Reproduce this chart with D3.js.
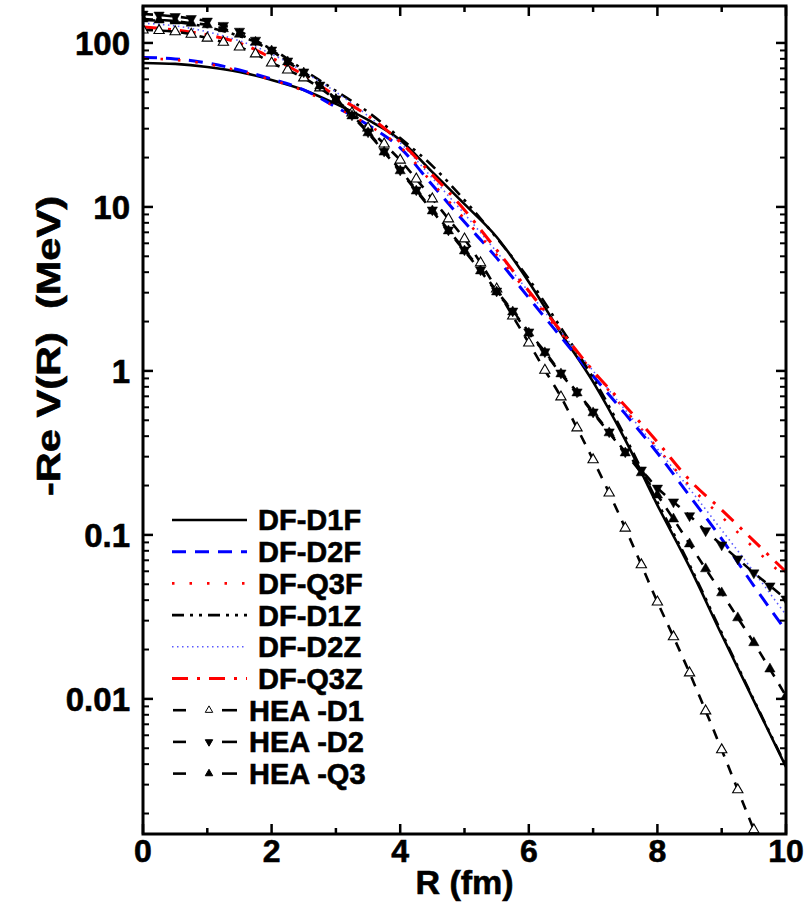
<!DOCTYPE html>
<html><head><meta charset="utf-8">
<script src="https://cdn.jsdelivr.net/npm/d3@7"></script>
<style>body{margin:0;background:#fff}svg{display:block}text{font-family:"Liberation Sans",Arial,sans-serif;font-weight:bold;fill:#000;stroke:#000;stroke-width:0.6px}</style>
</head><body><svg id="c" width="809" height="914"></svg>
<script>
// ---- data (R in fm, -Re V in MeV) ----
const R_DF = [0,0.5,1,1.5,2,2.5,3,3.5,4,4.5,5,5.5,6,6.5,7,7.5,8,8.5,9,9.5,10];
const R_HEA = [0,0.25,0.5,0.75,1,1.25,1.5,1.75,2,2.25,2.5,2.75,3,3.25,3.5,3.75,4,4.25,4.5,4.75,5,5.25,5.5,5.75,6,6.25,6.5,6.75,7,7.25,7.5,7.75,8,8.25,8.5,8.75,9,9.25,9.5,9.75,10];
const dfD1F = [75.5,74.5,71.4,66.6,59.5,51.7,42.5,33.9,25.6,16.3,10.4,6.56,3.49,1.70,0.857,0.380,0.152,0.0638,0.0246,0.00972,0.00385];
const dfD2F = [81.6,79.9,75.5,68.4,60.3,51.7,40.7,31.6,22.9,13.6,8.10,4.89,2.79,1.61,0.932,0.547,0.316,0.173,0.0945,0.0489,0.0260];
const dfQ3F = [80.4,78.8,74.5,67.5,59.5,51.0,40.7,31.6,23.2,14.0,8.45,5.10,2.95,1.70,0.986,0.578,0.339,0.199,0.129,0.0833,0.0547];
const dfD1Z = [138,134,125,110,91.9,68.4,51.0,37.9,26.3,17.8,11.0,6.47,3.64,1.83,0.906,0.396,0.159,0.0657,0.0253,0.00986,0.00390];
const dfD2Z = [132,127,117,103,85.7,66.6,50.2,35.9,24.6,15.0,9.06,5.32,3.03,1.73,1.00,0.578,0.334,0.191,0.107,0.0595,0.0325];
const dfQ3Z = [125,120,112,100,81.0,63.8,47.5,35.9,24.9,15.7,9.59,5.47,3.07,1.75,1.00,0.612,0.369,0.216,0.142,0.0919,0.0595];
const heaD1 = [120,119,117,113,107,101,94.5,85.7,75.5,68.4,61.2,53.2,44.9,37.4,30.3,24.2,19.3,14.8,11.2,8.45,6.38,4.56,3.16,2.16,1.48,1.01,0.694,0.449,0.287,0.180,0.110,0.0657,0.0390,0.0239,0.0144,0.00845,0.00489,0.00279,0.00159,0.000906,0.000517];
const heaD2 = [150,148,145,141,136,128,118,104,90.6,77.7,66.6,55.4,45.6,36.4,28.7,21.9,16.8,12.7,9.59,7.24,5.47,4.13,3.07,2.32,1.73,1.31,0.972,0.745,0.562,0.425,0.321,0.249,0.193,0.159,0.131,0.106,0.0869,0.0714,0.0587,0.0489,0.0407];
const heaQ3 = [140,138,136,132,129,122,113,101,89.4,76.6,65.6,54.7,44.9,35.9,28.3,21.6,16.6,12.5,9.45,7.14,5.39,4.07,3.03,2.29,1.70,1.29,0.959,0.734,0.555,0.419,0.316,0.239,0.175,0.125,0.0881,0.0621,0.0443,0.0312,0.0220,0.0152,0.0104];
const seriesNames = ["DF-D1F","DF-D2F","DF-Q3F","DF-D1Z","DF-D2Z","DF-Q3Z","HEA -D1","HEA -D2","HEA -Q3"];
const xTickLabels = ["0","2","4","6","8","10"];
const yTickLabels = ["0.01","0.1","1","10","100"];

// ---- styles ----
const styles = [
  {r:R_DF, v:dfD1F, color:"#000", w:2.6, dash:null},
  {r:R_DF, v:dfD2F, color:"#0000ff", w:3, dash:"14,9"},
  {r:R_DF, v:dfQ3F, color:"#ff0000", w:2.6, dash:"2.5,15"},
  {r:R_DF, v:dfD1Z, color:"#000", w:2.6, dash:"12,6,3,6,3,6"},
  {r:R_DF, v:dfD2Z, color:"#5a5aff", w:1.6, dash:"1.5,3.5"},
  {r:R_DF, v:dfQ3Z, color:"#ff0000", w:3, dash:"16,9,3,9"},
  {r:R_HEA, v:heaD1, color:"#000", w:2.6, dash:"10,9", marker:"open"},
  {r:R_HEA, v:heaD2, color:"#000", w:2.6, dash:"10,9", marker:"down"},
  {r:R_HEA, v:heaQ3, color:"#000", w:2.6, dash:"10,9", marker:"up"}
];

const svg = d3.select("#c");
const L = 143, Rr = 786, T = 6, B = 834;
const x = d3.scaleLinear().domain([0,10]).range([L,Rr]);
const y = d3.scaleLog().domain([0.0015,168]).range([B,T]);

svg.append("defs").append("clipPath").attr("id","clip")
  .append("rect").attr("x",L).attr("y",T).attr("width",Rr-L).attr("height",B-T);

const plot = svg.append("g").attr("clip-path","url(#clip)");
const line = d3.line().curve(d3.curveMonotoneX);
const tri = size => d3.symbol().type(d3.symbolTriangle).size(size)();

styles.forEach(s=>{
  const pts = s.r.map((r,k)=>[x(r), y(s.v[k])]);
  plot.append("path").attr("d", line(pts)).attr("fill","none")
    .attr("stroke", s.color).attr("stroke-width", s.w)
    .attr("stroke-dasharray", s.dash);
});
styles.forEach(s=>{
  if(!s.marker) return;
  const g = plot.append("g");
  s.r.forEach((r,k)=>{
    const rot = s.marker==="down" ? 180 : 0;
    g.append("path").attr("d", tri(46))
      .attr("transform",`translate(${x(r)},${y(s.v[k])}) rotate(${rot})`)
      .attr("fill", s.marker==="open" ? "#fff" : "#000")
      .attr("stroke","#000").attr("stroke-width", s.marker==="open"?1.1:0.5);
  });
});

// ---- axes ----
const ax = svg.append("g").attr("stroke","#000");
const xMajor = [0,2,4,6,8,10], xMinor = [1,3,5,7,9];
xMajor.forEach(v=>{
  ax.append("line").attr("x1",x(v)).attr("x2",x(v)).attr("y1",B).attr("y2",B-10).attr("stroke-width",2.5);
  ax.append("line").attr("x1",x(v)).attr("x2",x(v)).attr("y1",T).attr("y2",T+10).attr("stroke-width",2.5);
});
xMinor.forEach(v=>{
  ax.append("line").attr("x1",x(v)).attr("x2",x(v)).attr("y1",B).attr("y2",B-6).attr("stroke-width",2.5);
  ax.append("line").attr("x1",x(v)).attr("x2",x(v)).attr("y1",T).attr("y2",T+6).attr("stroke-width",2.5);
});
const yMajor = [0.01,0.1,1,10,100];
const yMinor = [];
[0.001,0.01,0.1,1,10,100].forEach(d=>{ for(let m=2;m<=9;m++){ const v=m*d; if(v>0.0015 && v<168) yMinor.push(v);} });
yMajor.forEach(v=>{
  ax.append("line").attr("x1",L).attr("x2",L+10).attr("y1",y(v)).attr("y2",y(v)).attr("stroke-width",2.5);
  ax.append("line").attr("x1",Rr).attr("x2",Rr-10).attr("y1",y(v)).attr("y2",y(v)).attr("stroke-width",2.5);
});
yMinor.forEach(v=>{
  ax.append("line").attr("x1",L).attr("x2",L+6).attr("y1",y(v)).attr("y2",y(v)).attr("stroke-width",2);
  ax.append("line").attr("x1",Rr).attr("x2",Rr-6).attr("y1",y(v)).attr("y2",y(v)).attr("stroke-width",2);
});
svg.append("rect").attr("x",L).attr("y",T).attr("width",Rr-L).attr("height",B-T)
  .attr("fill","none").attr("stroke","#000").attr("stroke-width",3);

// tick labels
xMajor.forEach((v,i)=>{
  svg.append("text").attr("x",x(v)).attr("y",862).attr("text-anchor","middle")
    .attr("font-size",32).text(xTickLabels[i]);
});
yMajor.forEach((v,i)=>{
  svg.append("text").attr("x",L-13).attr("y",y(v)).attr("dy","0.36em").attr("text-anchor","end")
    .attr("font-size",33).text(yTickLabels[i]);
});
// axis titles
svg.append("text").attr("x",(L+Rr)/2).attr("y",894).attr("text-anchor","middle")
  .attr("font-size",34).text("R (fm)");
svg.append("text").attr("transform","translate(60,346) rotate(-90)").attr("text-anchor","middle")
  .attr("font-size",34).attr("textLength",300).attr("lengthAdjust","spacingAndGlyphs")
  .style("white-space","pre").text("-Re V(R)  (MeV)");

// ---- legend ----
const lg = svg.append("g");
const rowY0 = 520, rowDy = 31.7;
styles.forEach((s,i)=>{
  const yy = rowY0 + i*rowDy;
  if(!s.marker){
    lg.append("line").attr("x1",172).attr("x2",247).attr("y1",yy).attr("y2",yy)
      .attr("stroke",s.color).attr("stroke-width",s.w).attr("stroke-dasharray",s.dash);
    lg.append("text").attr("x",258).attr("y",yy).attr("dy","0.36em").attr("font-size",29).text(seriesNames[i]);
  } else {
    lg.append("line").attr("x1",173).attr("x2",186).attr("y1",yy).attr("y2",yy).attr("stroke","#000").attr("stroke-width",2.6);
    lg.append("line").attr("x1",222).attr("x2",237).attr("y1",yy).attr("y2",yy).attr("stroke","#000").attr("stroke-width",2.6);
    lg.append("path").attr("d", tri(24))
      .attr("transform",`translate(209,${yy}) rotate(${s.marker==="down"?180:0})`)
      .attr("fill", s.marker==="open" ? "#fff" : "#000").attr("stroke","#000").attr("stroke-width",1);
    lg.append("text").attr("x",249).attr("y",yy).attr("dy","0.36em").attr("font-size",29).text(seriesNames[i]);
  }
});
</script></body></html>
